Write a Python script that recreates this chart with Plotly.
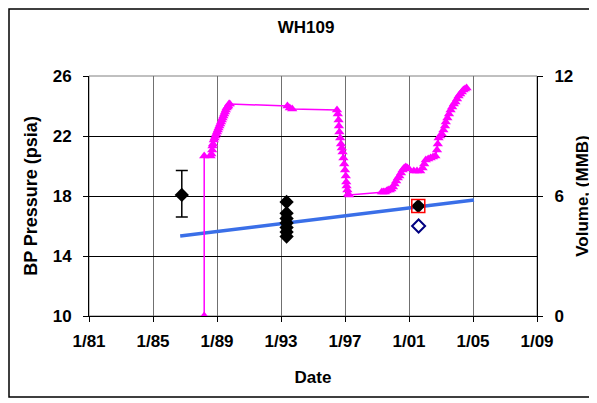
import plotly.graph_objects as go

# Volume (right axis, MMB) vs decimal year
vol_year = [1988.2, 1988.2, 1988.6, 1988.65, 1988.7, 1988.72, 1988.75, 1988.8, 1988.85, 1988.9,
            1988.95, 1989.0, 1989.05, 1989.1, 1989.15, 1989.2, 1989.25, 1989.3, 1989.35,
            1989.4, 1989.45, 1989.5, 1989.55, 1989.6, 1989.65, 1989.7, 1989.75, 1989.8,
            1993.4, 1993.55, 1993.7,
            1996.5, 1996.55, 1996.6, 1996.62, 1996.65, 1996.7, 1996.75, 1996.8, 1996.85,
            1996.9, 1996.95, 1997.0, 1997.05, 1997.08, 1997.1, 1997.15, 1997.2, 1997.25,
            1999.3, 1999.4, 1999.5, 1999.6, 1999.7, 1999.8, 1999.9, 2000.0, 2000.1, 2000.2,
            2000.3, 2000.4, 2000.5, 2000.6, 2000.7, 2000.8, 2000.9, 2001.0, 2001.3, 2001.5,
            2001.7, 2001.85, 2001.95, 2002.05, 2002.2, 2002.35, 2002.5, 2002.65, 2002.75,
            2002.8, 2002.85, 2002.95, 2003.05, 2003.15, 2003.25, 2003.3, 2003.4, 2003.5,
            2003.6, 2003.7, 2003.8, 2003.9, 2004.0, 2004.1, 2004.2, 2004.3, 2004.4, 2004.5,
            2004.6]
vol_mmb = [0.0, 8.0, 8.0, 8.1, 8.3, 8.5, 8.6, 8.8, 8.9, 9.0,
           9.1, 9.2, 9.3, 9.4, 9.5, 9.6, 9.7, 9.8, 9.9,
           10.0, 10.1, 10.2, 10.3, 10.4, 10.45, 10.5, 10.6, 10.6,
           10.5, 10.4, 10.35,
           10.3, 10.1, 9.8, 9.5, 9.2, 8.9, 8.6, 8.4, 8.2,
           7.9, 7.6, 7.3, 7.0, 6.7, 6.5, 6.3, 6.1, 6.05,
           6.2, 6.2, 6.2, 6.25, 6.3, 6.3, 6.35, 6.45, 6.6, 6.75,
           6.9, 7.0, 7.15, 7.3, 7.4, 7.45, 7.4, 7.35, 7.25, 7.25,
           7.25, 7.4, 7.6, 7.8, 7.85, 7.9, 7.95, 8.0, 8.3,
           8.6, 8.9, 9.0, 9.1, 9.3, 9.5, 9.7, 9.9, 10.1,
           10.3, 10.45, 10.6, 10.7, 10.85, 11.0, 11.1, 11.2, 11.3, 11.35,
           11.4]

# BP pressure measurements
bp_err_year = [1986.8]
bp_err_psia = [18.07]
bp_err_plus = [1.63]
bp_err_minus = [1.47]

bp_year = [1993.35, 1993.35, 1993.35, 1993.35, 1993.35, 1993.35, 1993.35, 2001.58]
bp_psia = [17.6, 16.85, 16.5, 16.2, 15.9, 15.6, 15.3, 17.33]

red_year = [2001.58]
red_psia = [17.33]

open_year = [2001.6]
open_psia = [16.0]

trend_year = [1986.7, 2005.06]
trend_psia = [15.33, 17.73]

x_ticks = [1981, 1985, 1989, 1993, 1997, 2001, 2005, 2009]
x_labels = ["1/81", "1/85", "1/89", "1/93", "1/97", "1/01", "1/05", "1/09"]
y_ticks = [10, 14, 18, 22, 26]
y2_ticks = [0, 6, 12]

FONT = "Liberation Sans, Arial, sans-serif"

# page body has an 8px margin: the figure starts at screen (8, 8)
W, H = 589, 395
OFF = 8
PL, PR, PT, PB = 89, 537, 76, 316  # plot area in screen px

fig = go.Figure()

fig.add_trace(go.Scatter(
    x=trend_year, y=trend_psia, mode="lines",
    line=dict(color="#3A6FE8", width=3.5), showlegend=False))

fig.add_trace(go.Scatter(
    x=vol_year, y=vol_mmb, yaxis="y2", mode="lines+markers",
    line=dict(color="#FF00FF", width=1.5),
    marker=dict(symbol="triangle-up", size=9, color="#FF00FF"),
    showlegend=False))

fig.add_trace(go.Scatter(
    x=bp_err_year, y=bp_err_psia, mode="markers",
    marker=dict(symbol="diamond", size=11, color="black"),
    error_y=dict(type="data", array=bp_err_plus, arrayminus=bp_err_minus,
                 color="black", thickness=1.5, width=6),
    showlegend=False))

fig.add_trace(go.Scatter(
    x=bp_year, y=bp_psia, mode="markers",
    marker=dict(symbol="diamond", size=11, color="black"),
    showlegend=False))

fig.add_trace(go.Scatter(
    x=red_year, y=red_psia, mode="markers",
    marker=dict(symbol="square-open", size=13, color="red", line=dict(width=1.5)),
    showlegend=False))

fig.add_trace(go.Scatter(
    x=open_year, y=open_psia, mode="markers",
    marker=dict(symbol="diamond-open", size=10, color="#000080", line=dict(width=2)),
    showlegend=False))

pw = PR - PL
ph = PB - PT

fig.update_layout(
    width=W, height=H,
    margin=dict(l=PL - OFF, r=W + OFF - PR, t=PT - OFF, b=H + OFF - PB, autoexpand=False),
    paper_bgcolor="white", plot_bgcolor="white",
    font=dict(family=FONT, size=17, color="black"),
    title=dict(text="<b>WH109</b>", xref="container", yref="container",
               x=(306 - OFF) / W, xanchor="center",
               y=1 - (27 - OFF) / H, yanchor="middle",
               font=dict(size=17, family=FONT)),
    xaxis=dict(range=[1981, 2009], tickvals=x_ticks, ticktext=["<b>%s</b>" % t for t in x_labels],
               showgrid=True, gridcolor="#707070", gridwidth=1,
               showline=True, linecolor="black", linewidth=1,
               ticks="outside", ticklen=5, tickcolor="black", ticklabelstandoff=5,
               zeroline=False,
               title=dict(text="<b>Date</b>", standoff=20, font=dict(size=17))),
    yaxis=dict(range=[10, 26], tickvals=y_ticks, ticktext=["<b>%d</b>" % t for t in y_ticks],
               showgrid=True, gridcolor="black", gridwidth=1,
               showline=True, linecolor="black", linewidth=1,
               ticks="outside", ticklen=5, tickcolor="black", ticklabelstandoff=8,
               zeroline=False,
               title=dict(text="<b>BP Pressure (psia)</b>", standoff=10, font=dict(size=18))),
    yaxis2=dict(range=[0, 12], tickvals=y2_ticks, ticktext=["<b>%d</b>" % t for t in y2_ticks],
                overlaying="y", side="right", showgrid=False,
                showline=True, linecolor="black", linewidth=1,
                ticks="outside", ticklen=5, tickcolor="black", ticklabelstandoff=8,
                zeroline=False,
                title=dict(text="<b>Volume, (MMB)</b>", standoff=3, font=dict(size=17))),
    shapes=[
        dict(type="rect", xref="paper", yref="paper", x0=0, x1=1, y0=0, y1=1,
             line=dict(color="#808080", width=1), layer="below"),
        dict(type="rect", xref="paper", yref="paper",
             x0=(9 - PL) / pw, x1=(610 - PL) / pw,
             y0=(PB - 397) / ph, y1=(PB - 9) / ph,
             line=dict(color="black", width=1.5)),
    ],
)

fig.write_html("out.html")
